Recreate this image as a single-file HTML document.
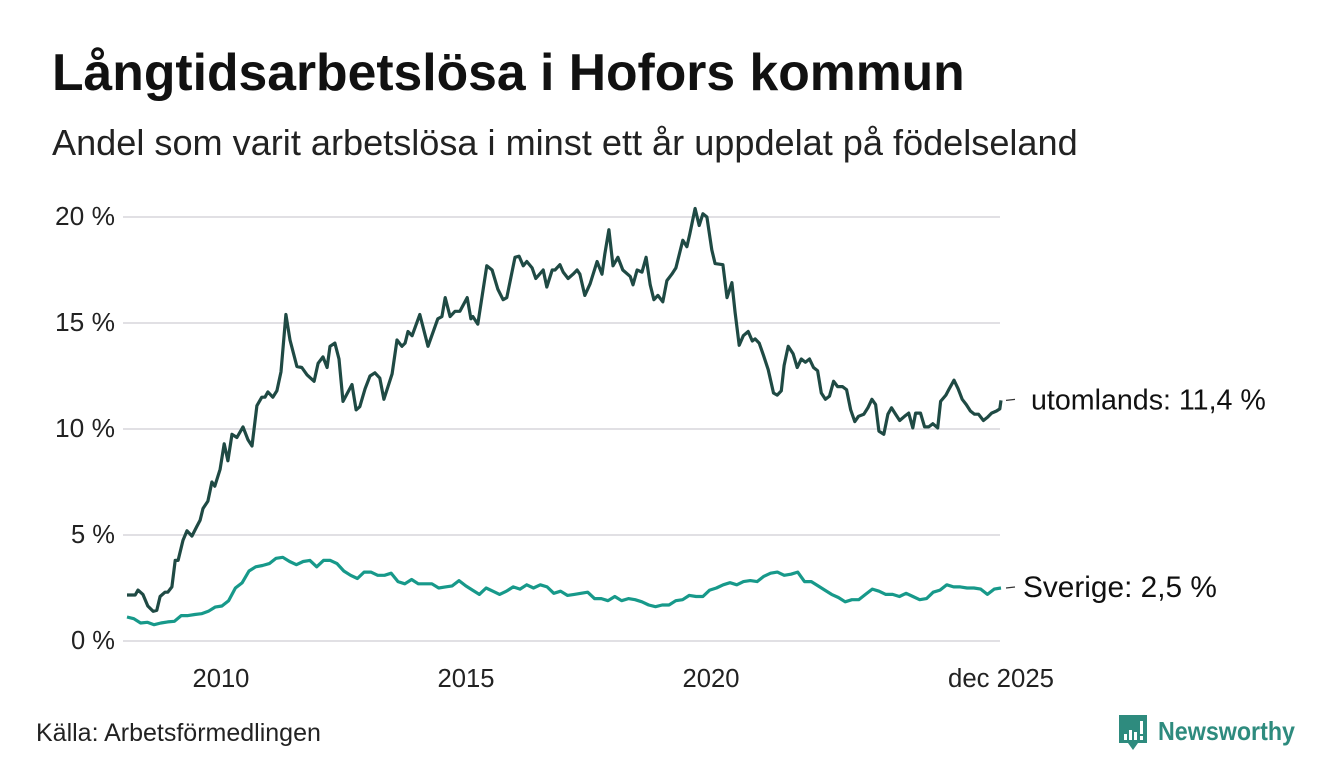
<!DOCTYPE html>
<html><head><meta charset="utf-8"><style>
body{margin:0;background:#fff;width:1340px;height:780px;overflow:hidden;font-family:"Liberation Sans","DejaVu Sans",sans-serif;color:#111}
.fit{position:absolute;white-space:nowrap;margin:0}
#title{left:52px;top:42px;font-size:48px;font-weight:bold}
#sub{left:52px;top:122px;font-size:31px;color:#222}
#src{left:36px;top:719px;font-size:21px;color:#222}
#logo{position:absolute;left:1117px;top:713px}
</style></head><body>
<h1 id="title" class="fit" data-w="913">Långtidsarbetslösa i Hofors kommun</h1>
<div id="sub" class="fit" data-w="1026">Andel som varit arbetslösa i minst ett år uppdelat på födelseland</div>
<svg id="chart" width="1340" height="780" style="position:absolute;left:0;top:0"></svg>
<div id="src" class="fit" data-w="285">Källa: Arbetsförmedlingen</div>
<div id="logo">
<svg width="200" height="40">
<path d="M2 2 H30 V30 H21 L16 37 L11 30 H2 Z" fill="#2e8b7e"/>
<rect x="7" y="21" width="3" height="6" fill="#fff"/><rect x="12" y="17" width="3" height="10" fill="#fff"/><rect x="17" y="19" width="3" height="8" fill="#fff"/><rect x="23" y="8" width="3" height="13" fill="#fff"/><rect x="23" y="23" width="3" height="4" fill="#fff"/>
<text x="41" y="27" font-size="26" font-weight="bold" fill="#2e8b7e" textLength="137" lengthAdjust="spacingAndGlyphs" font-family="Liberation Sans, sans-serif">Newsworthy</text>
</svg></div>
<script>
const yTicks=[0,5,10,15,20];
const yTickLabels=["0 %","5 %","10 %","15 %","20 %"];
const xTicks=[2010,2015,2020,2025.917];
const xTickLabels=["2010","2015","2020","dec 2025"];
const startT=2008.083, endT=2025.917, totalMonths=214;
// months since Feb 2008 for each utomlands sample
const utMonths=[0,2.0,2.7,3.9,5.1,6.4,7.3,8.1,9.3,10.0,11.0,11.8,12.5,13.7,14.7,15.9,17.1,17.9,18.6,19.8,20.8,21.5,22.8,23.8,24.7,25.7,26.9,28.4,29.6,30.6,31.8,33.0,33.8,34.5,35.7,36.7,37.7,38.9,39.9,41.6,42.8,44.1,45.8,46.8,48.0,49.0,49.7,50.9,51.9,52.9,55.1,56.1,57.0,58.3,59.5,60.7,61.9,62.9,64.9,66.1,67.3,68.1,68.8,69.8,71.7,73.7,76.1,77.1,77.9,79.1,80.3,81.5,83.3,84.2,84.7,85.9,88.1,89.4,90.8,92.1,93.0,95.0,96.0,97.0,97.9,99.2,100.1,101.9,102.8,104.1,104.8,106.0,106.8,108.0,109.2,110.2,110.9,112.1,113.4,115.1,116.3,117.0,118.0,119.0,120.2,121.4,123.2,123.9,124.9,126.1,127.1,128.1,129.0,130.0,131.2,132.2,133.4,134.4,136.1,137.1,137.8,139.1,140.1,141.0,142.0,143.2,144.0,145.9,146.9,148.1,148.9,149.9,150.9,152.1,153.1,153.8,154.8,155.8,157.0,158.3,159.2,160.2,160.9,161.9,163.1,164.1,165.1,166.1,167.1,168.1,169.1,170.0,171.0,172.0,173.0,174.0,175.2,176.2,177.2,178.2,179.1,180.4,181.4,182.4,183.3,184.1,185.3,186.3,187.2,188.2,189.2,190.4,191.4,192.4,193.1,194.3,195.3,196.3,197.3,198.5,199.2,200.5,201.2,202.5,203.5,204.5,205.5,206.5,207.5,208.5,209.7,210.7,211.7,212.9,213.7,214.0];
const utomlands=[2.17,2.17,2.4,2.2,1.65,1.4,1.45,2.1,2.3,2.3,2.55,3.8,3.8,4.75,5.2,4.95,5.4,5.7,6.25,6.6,7.5,7.3,8.1,9.3,8.5,9.75,9.6,10.1,9.5,9.2,11.1,11.5,11.5,11.75,11.5,11.8,12.7,15.4,14.2,12.95,12.9,12.55,12.25,13.1,13.4,12.9,13.9,14.05,13.3,11.3,12.1,10.9,11.05,11.9,12.5,12.65,12.4,11.4,12.6,14.2,13.9,14.05,14.6,14.4,15.4,13.9,15.2,15.3,16.2,15.3,15.55,15.55,16.2,15.2,15.3,14.95,17.7,17.5,16.6,16.1,16.2,18.1,18.15,17.7,17.9,17.6,17.1,17.5,16.7,17.5,17.5,17.75,17.4,17.1,17.3,17.5,17.3,16.3,16.85,17.9,17.3,18.25,19.4,17.7,18.1,17.5,17.2,16.8,17.5,17.4,18.1,16.8,16.1,16.3,16.0,17.0,17.3,17.6,18.9,18.6,19.2,20.4,19.6,20.15,20.0,18.45,17.8,17.75,16.2,16.9,15.5,13.95,14.4,14.6,14.15,14.25,14.05,13.5,12.8,11.7,11.6,11.8,13.0,13.9,13.55,12.9,13.3,13.15,13.3,12.9,12.75,11.7,11.4,11.55,12.25,12.0,12.0,11.85,10.9,10.35,10.6,10.7,11.0,11.4,11.15,9.9,9.75,10.7,11.0,10.7,10.4,10.6,10.75,10.05,10.75,10.75,10.1,10.1,10.25,10.05,11.3,11.6,11.85,12.3,11.9,11.4,11.15,10.85,10.7,10.7,10.4,10.55,10.75,10.85,10.95,11.35];
const sverige=[1.13,1.05,0.85,0.88,0.77,0.85,0.9,0.93,1.2,1.2,1.25,1.29,1.4,1.6,1.65,1.9,2.5,2.75,3.3,3.5,3.56,3.65,3.9,3.95,3.75,3.6,3.75,3.8,3.5,3.8,3.8,3.65,3.3,3.1,2.95,3.25,3.25,3.1,3.1,3.2,2.8,2.7,2.9,2.7,2.7,2.7,2.5,2.55,2.6,2.85,2.6,2.4,2.2,2.5,2.35,2.2,2.35,2.55,2.45,2.65,2.5,2.65,2.55,2.25,2.35,2.15,2.2,2.25,2.3,2.0,2.0,1.9,2.1,1.9,2.0,1.95,1.85,1.7,1.62,1.7,1.7,1.9,1.95,2.15,2.1,2.1,2.4,2.5,2.65,2.75,2.65,2.8,2.85,2.8,3.05,3.2,3.25,3.1,3.15,3.25,2.8,2.8,2.6,2.4,2.2,2.05,1.85,1.95,1.95,2.2,2.45,2.35,2.2,2.2,2.1,2.25,2.1,1.95,2.0,2.3,2.4,2.65,2.55,2.55,2.5,2.5,2.45,2.2,2.45,2.5];
document.querySelectorAll('.fit').forEach(el=>{
 const w=+el.dataset.w;const fs=parseFloat(getComputedStyle(el).fontSize);
 el.style.fontSize=(fs*w/el.getBoundingClientRect().width)+'px';
});
const NS="http://www.w3.org/2000/svg";
const svg=document.getElementById('chart');
const x0=127,x1=1001;
function xs(t){return x0+(t-startT)/(endT-startT)*(x1-x0);}
function xm(m){return xs(startT+m/totalMonths*(endT-startT));}
function ys(v){return 641-v*21.2;}
function mk(tag,attrs){const e=document.createElementNS(NS,tag);for(const k in attrs)e.setAttribute(k,attrs[k]);svg.appendChild(e);return e;}
function txt(attrs,s,w){const t=mk('text',attrs);t.textContent=s;const bw=t.getComputedTextLength();t.setAttribute('font-size',attrs['font-size']*w/bw);return t;}
yTicks.forEach((v,i)=>{
 const g=mk('line',{x1:123,x2:1000,y1:ys(v),y2:ys(v),stroke:'#e1e0e4','stroke-width':2});
 
 
 const t=txt({x:115,y:ys(v)+8,'text-anchor':'end','font-size':20,fill:'#222'},yTickLabels[i],i<2?44:60);
 
 
});
const xW=[57,57,57,106];
xTicks.forEach((v,i)=>{
 const t=txt({x:i==3?1001:xs(v),y:687,'text-anchor':'middle','font-size':20,fill:'#222'},xTickLabels[i],xW[i]);
 
 
});
function draw(pts,color,name){
 const d=pts.map((p,i)=>(i?'L':'M')+p[0].toFixed(1)+' '+ys(p[1]).toFixed(1)).join(' ');
 const p=mk('path',{d:d,fill:'none',stroke:color,'stroke-width':3.2,'stroke-linejoin':'round'});
 
 
}
draw(sverige.map((v,i)=>[xm(i/(sverige.length-1)*totalMonths),v]),'#17998a','line-sverige');
draw(utomlands.map((v,i)=>[xm(utMonths[i]),v]),'#1f4a44','line-utomlands');
function label(arr,s,name,dy,x,w){
 const y=ys(arr[arr.length-1]);
 const l=mk('line',{x1:1006,x2:1015,y1:y,y2:y-1,stroke:'#333','stroke-width':1.3});
 
 
 const t=txt({x:x,y:y+dy,'font-size':24,fill:'#111','xml:space':'preserve'},s,w);
 
 
}
label(utomlands,'utomlands: 11,4 %','label-utomlands',9,1031,235);
label(sverige,'Sverige:  2,5 %','label-sverige',9,1023,194);
</script>
</body></html>
